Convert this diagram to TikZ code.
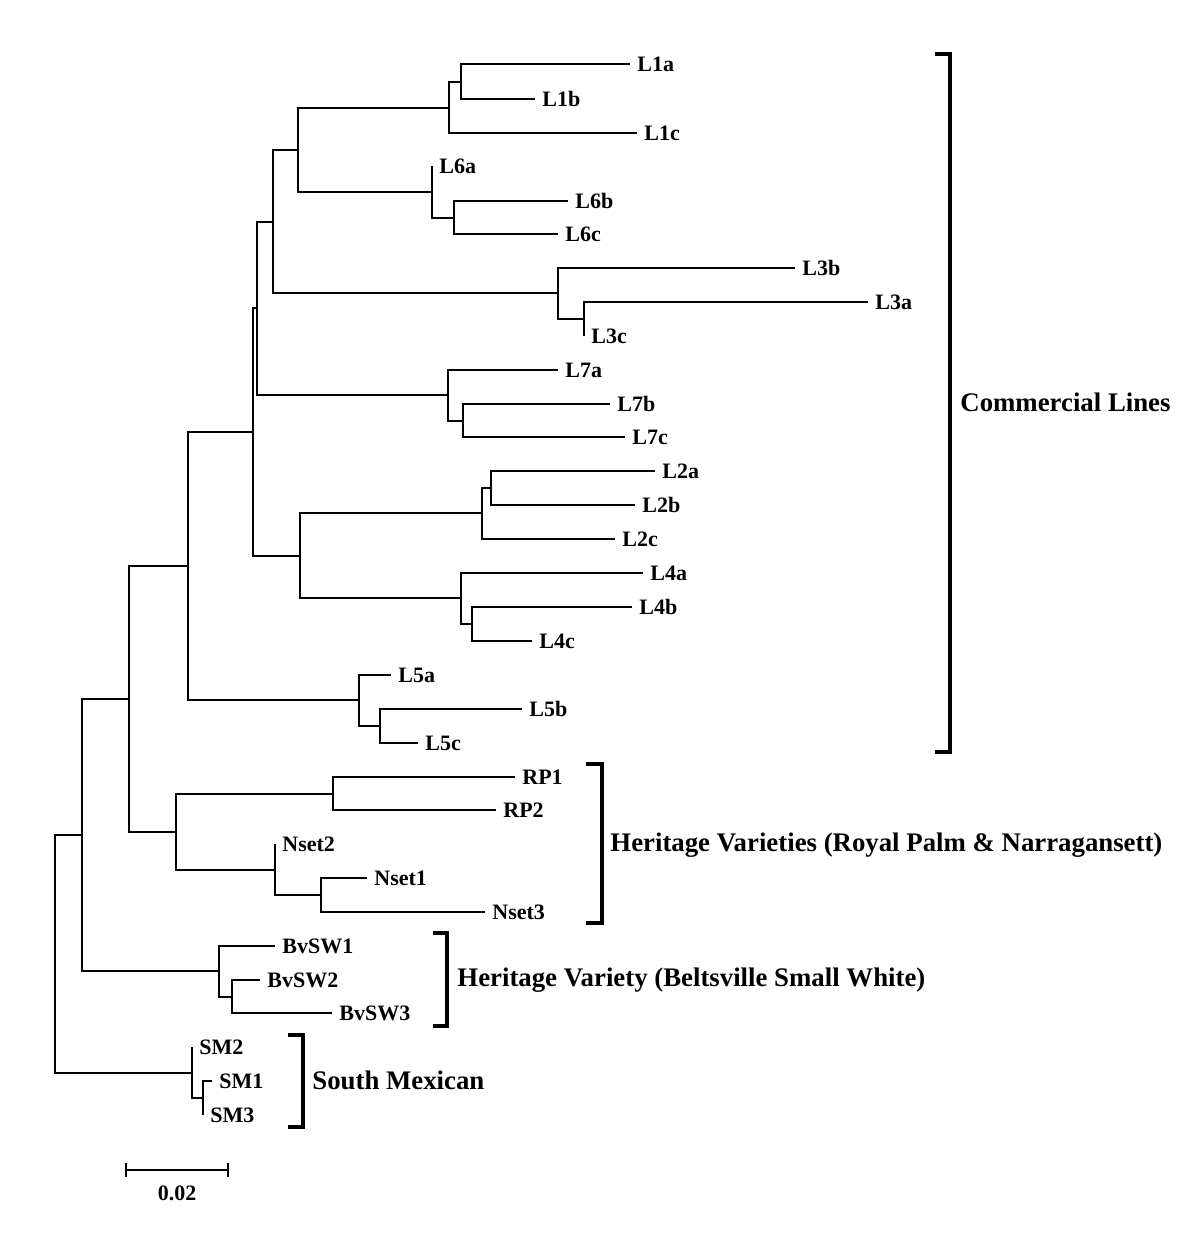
\documentclass[tikz,border=0pt]{standalone}
\usepackage{fontspec}
\setmainfont{Liberation Serif}
\begin{document}
\begin{tikzpicture}[x=0.5pt,y=-0.5pt,
  br/.style={line width=0.85pt, line join=miter},
  brk/.style={line width=2.2pt, line join=miter},
  leaf/.style={anchor=base west, inner sep=0pt, xshift=3.5pt, yshift=-3.6pt,
    font=\fontsize{11pt}{13pt}\selectfont\bfseries},
  grp/.style={anchor=base west, inner sep=0pt, yshift=-4.4pt,
    font=\fontsize{13.4pt}{15pt}\selectfont\bfseries}]
\useasboundingbox (0,0) rectangle (1200,1246);
% leaves
\foreach \n/\x/\y in {L1a/630/64, L1b/535/99, L1c/637/133, L6a/432/166, L6b/568/201, L6c/558/234,
  L3b/795/268, L3a/868/302, L3c/584/336, L7a/558/370, L7b/610/404, L7c/625/437,
  L2a/655/471, L2b/635/505, L2c/615/539, L4a/643/573, L4b/632/607, L4c/532/641,
  L5a/391/675, L5b/522/709, L5c/418/743, RP1/515/777, RP2/496/810,
  Nset2/275/844, Nset1/367/878, Nset3/485/912, BvSW1/275/946, BvSW2/260/980, BvSW3/332/1013,
  SM2/192/1047, SM1/212/1081, SM3/203/1115}
  {\coordinate (\n) at (\x,\y); \node[leaf] (t\n) at (\n) {\n};}
% internal nodes
\foreach \n/\x/\y in {n1ab/461/82, n1/449/108, n6bc/454/218, n6/432/192, n16/298/150,
  n3ac/584/319, n3/558/293, n163/273/222, n7bc/463/421, n7/448/395, nB/257/308,
  n2ab/491/488, n2/482/513, n4bc/472/624, n4/461/598, n24/300/556, nC/253/432,
  n5bc/380/726, n5/359/700, nD/188/566, nRP/333/794, nN13/321/895, nN/275/870,
  nH/176/832, nE/129/699, nBv23/232/997, nBv/219/971, nF/82/835,
  nSM13/203/1098, nSM/192/1073, root/55/954}
  {\coordinate (\n) at (\x,\y);}
% branches
\foreach \p/\c in {n1ab/L1a, n1ab/L1b, n1/n1ab, n1/L1c, n6bc/L6b, n6bc/L6c, n6/L6a, n6/n6bc,
  n16/n1, n16/n6, n3ac/L3a, n3ac/L3c, n3/L3b, n3/n3ac, n163/n16, n163/n3,
  n7bc/L7b, n7bc/L7c, n7/L7a, n7/n7bc, nB/n163, nB/n7,
  n2ab/L2a, n2ab/L2b, n2/n2ab, n2/L2c, n4bc/L4b, n4bc/L4c, n4/L4a, n4/n4bc, n24/n2, n24/n4,
  nC/nB, nC/n24, n5bc/L5b, n5bc/L5c, n5/L5a, n5/n5bc, nD/nC, nD/n5,
  nRP/RP1, nRP/RP2, nN13/Nset1, nN13/Nset3, nN/Nset2, nN/nN13, nH/nRP, nH/nN,
  nE/nD, nE/nH, nBv23/BvSW2, nBv23/BvSW3, nBv/BvSW1, nBv/nBv23, nF/nE, nF/nBv,
  nSM13/SM1, nSM13/SM3, nSM/SM2, nSM/nSM13, root/nF, root/nSM}
  {\draw[br] (\p) |- (\c);}
% brackets
\coordinate (b1t) at (950,54); \coordinate (b1b) at (950,752);
\draw[brk] ([xshift=-7.5pt]b1t) -- (b1t) -- (b1b) -- ([xshift=-7.5pt]b1b);
\node[grp] (g1) at (960,403) {Commercial Lines};
\coordinate (b2t) at (602,764); \coordinate (b2b) at (602,923);
\draw[brk] ([xshift=-8pt]b2t) -- (b2t) -- (b2b) -- ([xshift=-8pt]b2b);
\node[grp] (g2) at (610,843) {Heritage Varieties (Royal Palm \& Narragansett)};
\coordinate (b3t) at (447,933); \coordinate (b3b) at (447,1026);
\draw[brk] ([xshift=-7pt]b3t) -- (b3t) -- (b3b) -- ([xshift=-7pt]b3b);
\node[grp] (g3) at (457,978) {Heritage Variety (Beltsville Small White)};
\coordinate (b4t) at (303,1035); \coordinate (b4b) at (303,1127);
\draw[brk] ([xshift=-7.5pt]b4t) -- (b4t) -- (b4b) -- ([xshift=-7.5pt]b4b);
\node[grp] (g4) at (312,1081) {South Mexican};
% scale bar
\coordinate (s1) at (126,1170); \coordinate (s2) at (228,1170);
\draw[br] (s1) -- (s2);
\draw[br] ([yshift=3.5pt]s1) -- ([yshift=-3.5pt]s1);
\draw[br] ([yshift=3.5pt]s2) -- ([yshift=-3.5pt]s2);
\node[anchor=base, inner sep=0pt, font=\fontsize{11pt}{13pt}\selectfont\bfseries] (sl) at (177,1200) {0.02};
\end{tikzpicture}
\end{document}
